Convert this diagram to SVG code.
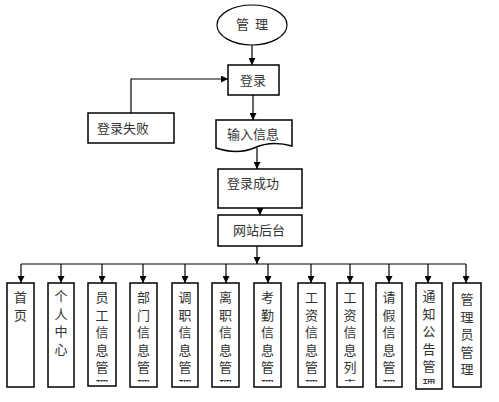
<svg xmlns="http://www.w3.org/2000/svg" width="499" height="402" viewBox="0 0 499 402">
<style>
.box{fill:#fff;stroke:#000;stroke-width:1.5}
.t{font-family:"Noto Sans CJK SC","Noto Sans",sans-serif;font-size:13px;fill:#333}
.c{text-anchor:middle}
.ln{fill:none;stroke:#000;stroke-width:1.2}
</style>
<defs>
<marker id="ah" viewBox="0 0 10 10" refX="10" refY="5" markerWidth="7" markerHeight="7" markerUnits="userSpaceOnUse" orient="auto">
<path d="M0,0 L10,5 L0,10 Z" fill="#000"/>
</marker>
<clipPath id="cl" clipPathUnits="userSpaceOnUse"><rect x="0" y="280" width="499" height="102"/></clipPath>
<clipPath id="cl2" clipPathUnits="userSpaceOnUse"><rect x="0" y="280" width="499" height="104"/></clipPath>
</defs>
<g id="connectors">
<line class="ln" x1="252" y1="45" x2="252" y2="65" marker-end="url(#ah)"/>
<polyline class="ln" points="131,113 131,79 228,79" marker-end="url(#ah)"/>
<line class="ln" x1="253" y1="95" x2="253" y2="120" marker-end="url(#ah)"/>
<line class="ln" x1="257" y1="148" x2="257" y2="169" marker-end="url(#ah)"/>
<line class="ln" x1="260" y1="208" x2="260" y2="215" marker-end="url(#ah)"/>
<line class="ln" x1="257" y1="246" x2="257" y2="264" marker-end="url(#ah)"/>
<line class="ln" x1="21" y1="264" x2="466" y2="264"/>
<line class="ln" x1="21" y1="264" x2="21" y2="283" marker-end="url(#ah)"/>
<line class="ln" x1="61" y1="264" x2="61" y2="283" marker-end="url(#ah)"/>
<line class="ln" x1="102" y1="264" x2="102" y2="283" marker-end="url(#ah)"/>
<line class="ln" x1="143" y1="264" x2="143" y2="283" marker-end="url(#ah)"/>
<line class="ln" x1="185" y1="264" x2="185" y2="283" marker-end="url(#ah)"/>
<line class="ln" x1="226" y1="264" x2="226" y2="283" marker-end="url(#ah)"/>
<line class="ln" x1="268" y1="264" x2="268" y2="283" marker-end="url(#ah)"/>
<line class="ln" x1="311" y1="264" x2="311" y2="283" marker-end="url(#ah)"/>
<line class="ln" x1="350" y1="264" x2="350" y2="283" marker-end="url(#ah)"/>
<line class="ln" x1="389" y1="264" x2="389" y2="283" marker-end="url(#ah)"/>
<line class="ln" x1="428" y1="264" x2="428" y2="283" marker-end="url(#ah)"/>
<line class="ln" x1="466" y1="264" x2="466" y2="283" marker-end="url(#ah)"/>
</g>
<g id="n-admin">
<ellipse cx="252" cy="25" rx="35" ry="20" fill="#fff" stroke="#000" stroke-width="1.2"/>
<text class="t c" x="252" y="29" xml:space="preserve">管  理</text>
</g>
<g id="n-login">
<rect class="box" x="228" y="65" width="51" height="30"/>
<text class="t c" x="253" y="85">登录</text>
</g>
<g id="n-fail">
<rect class="box" x="88" y="113" width="86" height="30"/>
<text class="t" x="97" y="133">登录失败</text>
</g>
<g id="n-input">
<path class="box" d="M216,120 H292 V146 C278,142 265,143 254,148 C242,153 228,152 216,148 Z"/>
<text class="t c" x="253" y="139">输入信息</text>
</g>
<g id="n-success">
<rect class="box" x="218" y="169" width="84" height="39"/>
<text class="t" x="227" y="188">登录成功</text>
</g>
<g id="n-backend">
<rect class="box" x="218" y="215" width="84" height="31"/>
<text class="t c" x="259" y="235">网站后台</text>
</g>
<g id="n-home">
<rect class="box" x="7" y="283" width="27" height="104"/>
<text class="t c" x="20.5" y="302">首</text>
<text class="t c" x="20.5" y="320">页</text>
</g>
<g id="n-personal">
<rect class="box" x="48" y="283" width="26" height="104"/>
<text class="t c" x="61" y="301">个</text>
<text class="t c" x="61" y="318.5">人</text>
<text class="t c" x="61" y="336">中</text>
<text class="t c" x="61" y="353.5">心</text>
</g>
<g id="n-staff">
<rect class="box" x="88" y="283" width="28" height="103"/>
<g clip-path="url(#cl)">
<text class="t c" x="102" y="302">员</text>
<text class="t c" x="102" y="319.5">工</text>
<text class="t c" x="102" y="337">信</text>
<text class="t c" x="102" y="354.5">息</text>
<text class="t c" x="102" y="372">管</text>
<text class="t c" x="102" y="389.5">理</text>
</g>
</g>
<g id="n-dept">
<rect class="box" x="130" y="283" width="27" height="104"/>
<g clip-path="url(#cl)">
<text class="t c" x="143.5" y="302">部</text>
<text class="t c" x="143.5" y="319.5">门</text>
<text class="t c" x="143.5" y="337">信</text>
<text class="t c" x="143.5" y="354.5">息</text>
<text class="t c" x="143.5" y="372">管</text>
<text class="t c" x="143.5" y="389.5">理</text>
</g>
</g>
<g id="n-transfer">
<rect class="box" x="172" y="283" width="26" height="104"/>
<g clip-path="url(#cl)">
<text class="t c" x="185" y="302">调</text>
<text class="t c" x="185" y="319.5">职</text>
<text class="t c" x="185" y="337">信</text>
<text class="t c" x="185" y="354.5">息</text>
<text class="t c" x="185" y="372">管</text>
<text class="t c" x="185" y="389.5">理</text>
</g>
</g>
<g id="n-leave">
<rect class="box" x="212" y="283" width="27" height="104"/>
<g clip-path="url(#cl)">
<text class="t c" x="225.5" y="302">离</text>
<text class="t c" x="225.5" y="319.5">职</text>
<text class="t c" x="225.5" y="337">信</text>
<text class="t c" x="225.5" y="354.5">息</text>
<text class="t c" x="225.5" y="372">管</text>
<text class="t c" x="225.5" y="389.5">理</text>
</g>
</g>
<g id="n-attendance">
<rect class="box" x="254" y="283" width="27" height="104"/>
<g clip-path="url(#cl)">
<text class="t c" x="267.5" y="302">考</text>
<text class="t c" x="267.5" y="319.5">勤</text>
<text class="t c" x="267.5" y="337">信</text>
<text class="t c" x="267.5" y="354.5">息</text>
<text class="t c" x="267.5" y="372">管</text>
<text class="t c" x="267.5" y="389.5">理</text>
</g>
</g>
<g id="n-salary">
<rect class="box" x="298" y="283" width="27" height="104"/>
<g clip-path="url(#cl)">
<text class="t c" x="311.5" y="302">工</text>
<text class="t c" x="311.5" y="319.5">资</text>
<text class="t c" x="311.5" y="337">信</text>
<text class="t c" x="311.5" y="354.5">息</text>
<text class="t c" x="311.5" y="372">管</text>
<text class="t c" x="311.5" y="389.5">理</text>
</g>
</g>
<g id="n-salary-list">
<rect class="box" x="337" y="283" width="26" height="104"/>
<g clip-path="url(#cl)">
<text class="t c" x="350" y="302">工</text>
<text class="t c" x="350" y="319.5">资</text>
<text class="t c" x="350" y="337">信</text>
<text class="t c" x="350" y="354.5">息</text>
<text class="t c" x="350" y="372">列</text>
<text class="t c" x="350" y="389.5">表</text>
</g>
</g>
<g id="n-vacation">
<rect class="box" x="376" y="283" width="26" height="104"/>
<g clip-path="url(#cl)">
<text class="t c" x="389" y="302">请</text>
<text class="t c" x="389" y="319.5">假</text>
<text class="t c" x="389" y="337">信</text>
<text class="t c" x="389" y="354.5">息</text>
<text class="t c" x="389" y="372">管</text>
<text class="t c" x="389" y="389.5">理</text>
</g>
</g>
<g id="n-notice">
<rect class="box" x="416" y="283" width="26" height="106"/>
<g clip-path="url(#cl2)">
<text class="t c" x="429" y="301">通</text>
<text class="t c" x="429" y="318.5">知</text>
<text class="t c" x="429" y="336">公</text>
<text class="t c" x="429" y="353.5">告</text>
<text class="t c" x="429" y="371">管</text>
<text class="t c" x="429" y="388.5">理</text>
</g>
</g>
<g id="n-manager">
<rect class="box" x="453" y="283" width="28" height="104"/>
<text class="t c" x="467" y="304">管</text>
<text class="t c" x="467" y="321.5">理</text>
<text class="t c" x="467" y="339">员</text>
<text class="t c" x="467" y="356.5">管</text>
<text class="t c" x="467" y="374">理</text>
</g>
</svg>
